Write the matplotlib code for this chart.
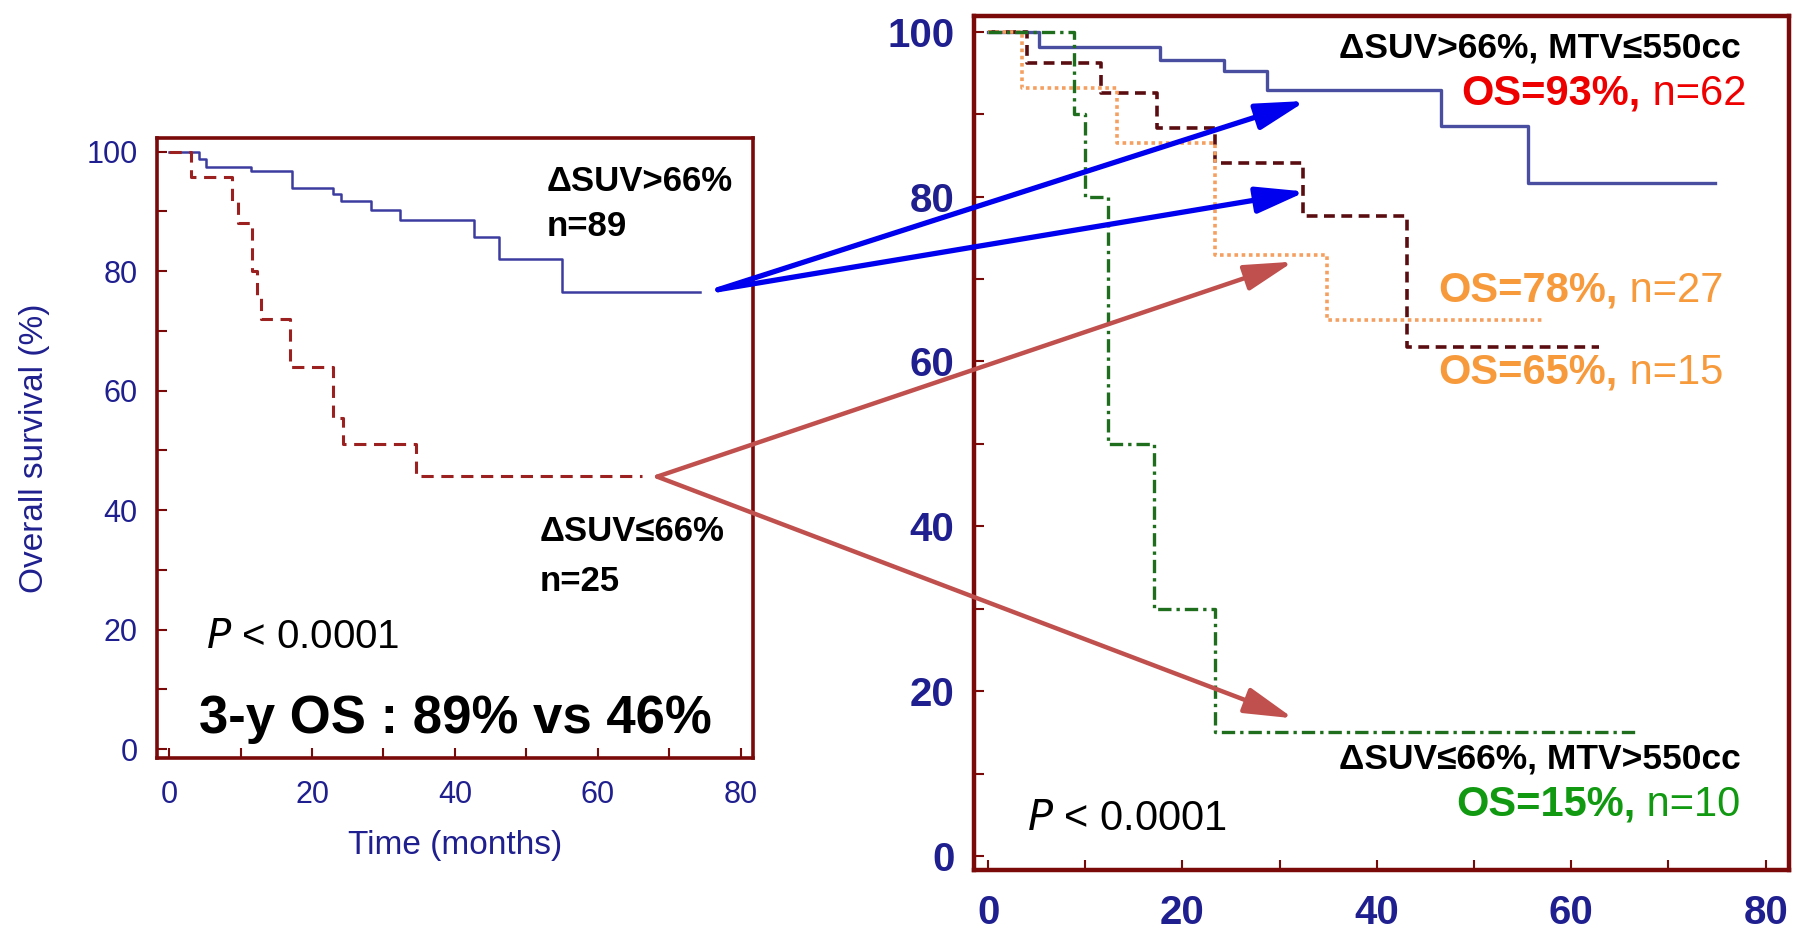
import matplotlib.pyplot as plt
from matplotlib.patches import ConnectionPatch

plt.rcParams['font.family'] = ['Liberation Sans', 'DejaVu Sans']

# left panel: Kaplan-Meier steps (time in months, survival in %)
good_t = [0, 4.2, 5.2, 11.5, 17.2, 23.0, 24.0, 28.2, 32.3, 42.7, 46.2, 55.0, 74.3]
good_s = [100, 98.7, 97.5, 96.7, 94.0, 93.0, 91.8, 90.2, 88.6, 85.7, 82.0, 76.5, 76.5]
poor_t = [0, 3.1, 8.8, 9.6, 11.6, 12.3, 12.8, 16.9, 23.0, 24.4, 34.5, 66.2]
poor_s = [100, 95.8, 91.8, 88.0, 80.0, 76.0, 72.0, 64.0, 55.4, 51.0, 45.7, 45.7]

# right panel: four groups
g1_t = [0, 5.2, 17.7, 24.3, 28.7, 46.6, 55.5, 74.8]
g1_s = [100, 98.2, 96.6, 95.2, 92.9, 88.6, 81.7, 81.7]
g2_t = [0, 4.0, 11.6, 17.4, 23.3, 32.4, 43.1, 62.9]
g2_s = [100, 96.2, 92.6, 88.3, 84.1, 77.6, 61.8, 61.8]
g3_t = [0, 3.5, 13.3, 23.3, 34.9, 57.2]
g3_s = [100, 93.2, 86.5, 72.9, 65.0, 65.0]
g4_t = [0, 8.8, 10.0, 12.3, 17.1, 23.3, 66.9]
g4_s = [100, 90.0, 80.0, 50.0, 30.0, 15.0, 15.0]

yticks = [0, 20, 40, 60, 80, 100]
xticks = [0, 20, 40, 60, 80]

frame_col = '#7a0a0a'
navy = '#1f1f8f'

fig = plt.figure(figsize=(18.02, 9.38), dpi=100)
axl = fig.add_axes([0.0871, 0.1919, 0.3307, 0.661])
axr = fig.add_axes([0.5405, 0.0725, 0.4523, 0.9104])


def style_axes(ax, xlim, ylim, lw, labsize, weight, xpad):
    ax.set_xlim(*xlim)
    ax.set_ylim(*ylim)
    ax.set_xticks(xticks)
    ax.set_yticks(yticks)
    ax.set_xticks(range(10, 80, 20), minor=True)
    ax.set_yticks(range(10, 100, 20), minor=True)
    for s in ax.spines.values():
        s.set_color(frame_col)
        s.set_linewidth(lw)
    ax.tick_params(which='both', direction='in', color=frame_col, width=1.5,
                   length=7, labelsize=labsize, labelcolor=navy, pad=14)
    ax.tick_params(axis='x', pad=xpad)
    for lab in ax.get_xticklabels() + ax.get_yticklabels():
        lab.set_fontweight(weight)


style_axes(axl, (-1.7, 81.7), (-1.5, 102.3), 2.6, 22, 'normal', 16)
style_axes(axr, (-1.45, 82.4), (-1.7, 101.9), 3.2, 29, 'bold', 17)

axl.step(good_t, good_s, where='post', color='#3c3ca0', lw=1.8)
axl.step(poor_t, poor_s, where='post', color='#9b2020', lw=2.2, dashes=(4, 2.5))
axl.set_xlabel('Time (months)', fontsize=24, color=navy, labelpad=14)
axl.set_ylabel('Overall survival (%)', fontsize=24, color=navy, labelpad=26)

axl.text(52.8, 95, 'ΔSUV>66%', fontsize=25, fontweight='bold', ha='left', va='center')
axl.text(52.8, 87.5, 'n=89', fontsize=25, fontweight='bold', ha='left', va='center')
axl.text(51.9, 36.5, 'ΔSUV≤66%', fontsize=25, fontweight='bold', ha='left', va='center')
axl.text(51.9, 28.0, 'n=25', fontsize=25, fontweight='bold', ha='left', va='center')
axl.text(5.1, 18.8, r'$\it{P}$ < 0.0001', fontsize=29, ha='left', va='center')
axl.text(40, 5.0, '3-y OS : 89% vs 46%', fontsize=38, fontweight='bold', ha='center', va='center')

axr.step(g1_t, g1_s, where='post', color='#4a4ea0', lw=2.4)
axr.step(g2_t, g2_s, where='post', color='#5a0d10', lw=2.6, dashes=(3, 1.8))
axr.step(g3_t, g3_s, where='post', color='#f5a060', lw=2.6, dashes=(1, 1))
axr.step(g4_t, g4_s, where='post', color='#1e6e1e', lw=2.4, dashes=(4, 1.5, 1, 1.5))


def two_part(ax, x, y, bold, rest, color, size=30):
    t = ax.text(x, y, rest, fontsize=size, color=color, ha='right', va='center')
    ax.annotate(bold, xy=(0, 0.5), xycoords=t, ha='right', va='center',
                fontsize=size, fontweight='bold', color=color)


axr.text(77.4, 98.0, 'ΔSUV>66%, MTV≤550cc', fontsize=25.5, fontweight='bold', ha='right', va='center')
two_part(axr, 78.0, 92.5, 'OS=93%,', ' n=62', '#ee0000')
two_part(axr, 75.6, 68.6, 'OS=78%,', ' n=27', '#f79a3c')
two_part(axr, 75.6, 58.6, 'OS=65%,', ' n=15', '#f79a3c')
axr.text(77.4, 11.8, 'ΔSUV≤66%, MTV>550cc', fontsize=25.5, fontweight='bold', ha='right', va='center')
two_part(axr, 77.4, 6.2, 'OS=15%,', ' n=10', '#119911')
axr.text(4.0, 4.5, r'$\it{P}$ < 0.0001', fontsize=30, ha='left', va='center')

# connecting arrows from the left curves to the right subgroups
arrows = [((76.8, 76.9), (32.7, 91.6), '#0000ee', 3.8),
          ((76.8, 76.9), (32.7, 80.6), '#0000ee', 3.8),
          ((68.3, 45.6), (31.4, 72.1), '#c0504d', 3.2),
          ((68.3, 45.6), (31.4, 16.7), '#c0504d', 3.2)]
for start, end, col, lw in arrows:
    cp = ConnectionPatch(xyA=start, coordsA=axl.transData, xyB=end, coordsB=axr.transData,
                         arrowstyle='-|>,head_length=1.5,head_width=0.4',
                         mutation_scale=20, color=col, lw=lw, zorder=10)
    fig.add_artist(cp)

fig.savefig('out.png', dpi=100)
